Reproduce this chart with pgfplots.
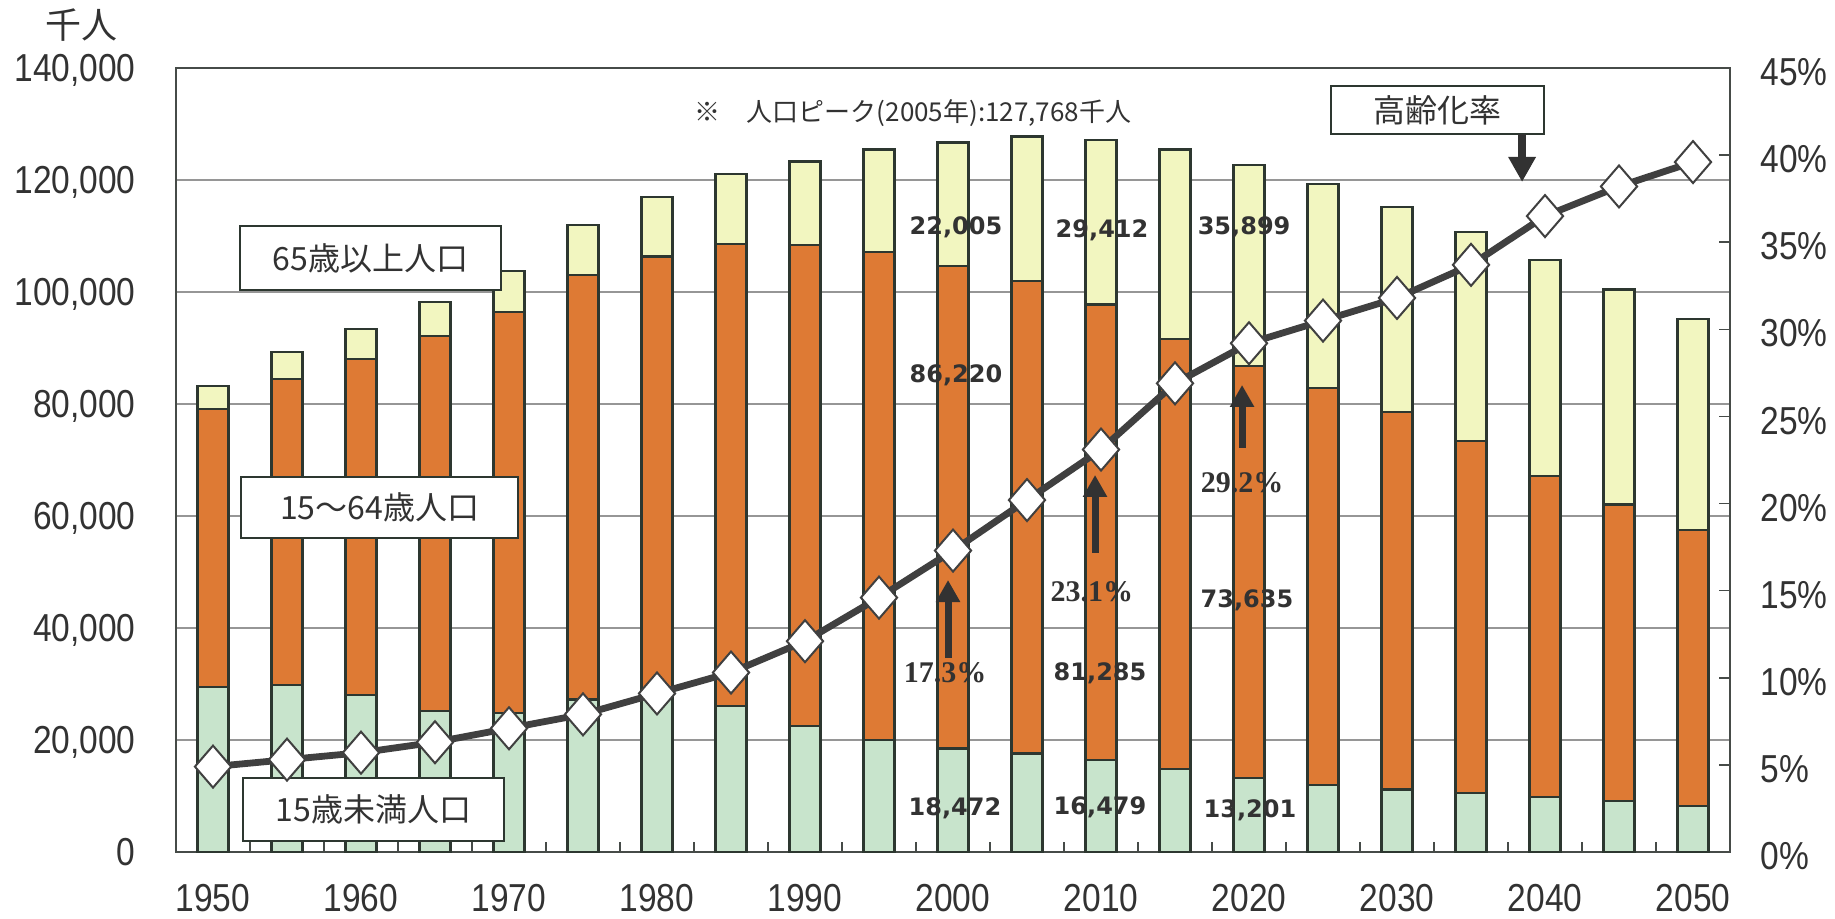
\documentclass[border=0pt]{standalone}
\usepackage{fontspec}
\setmainfont[FakeStretch=0.86]{Liberation Sans}
\newfontfamily\cjk{Noto Sans CJK JP}
\newfontfamily\numfont{DejaVu Sans}
\newfontfamily\pctfont{Liberation Serif}
\usepackage{pgfplots}
\pgfplotsset{compat=1.18}
\usepackage{pgfplotstable}
\usetikzlibrary{arrows.meta}

\definecolor{young}{RGB}{200,228,204}
\definecolor{work}{RGB}{222,122,52}
\definecolor{old}{RGB}{242,246,192}
\definecolor{barline}{RGB}{45,55,48}
\definecolor{linecol}{RGB}{64,64,64}
\definecolor{txt}{RGB}{50,50,50}
\definecolor{gridcol}{RGB}{150,150,150}
\definecolor{framecol}{RGB}{70,75,72}

% population by age group (thousand persons), ageing rate (%)
\pgfplotstableread{
idx year young work old rate
0  1950 29428 49658 4109  4.9
1  1955 29798 54729 4747  5.3
2  1960 28067 60002 5350  5.7
3  1965 25166 66928 6181  6.3
4  1970 24823 71566 7331  7.1
5  1975 27221 75807 8865  7.9
6  1980 27507 78835 10647 9.1
7  1985 26033 82506 12468 10.3
8  1990 22486 85904 14895 12.1
9  1995 20014 87165 18261 14.6
10 2000 18472 86220 22005 17.3
11 2005 17585 84422 25761 20.2
12 2010 16479 81285 29412 23.1
13 2015 14841 76807 33781 26.9
14 2020 13201 73635 35899 29.2
15 2025 11956 70960 36354 30.5
16 2030 11150 67404 36670 31.8
17 2035 10512 62919 37249 33.7
18 2040 9833  57335 38527 36.5
19 2045 9036  53000 38407 38.2
20 2050 8214  49297 37641 39.6
}\popdata

\tikzset{
  lbl/.style={draw=barline, line width=1pt, fill=white, inner sep=0pt,
    font=\cjk\fontsize{16pt}{18pt}\selectfont, text=txt},
  val/.style={font=\numfont\bfseries\fontsize{12pt}{14pt}\selectfont, text=txt, inner sep=0pt},
  pct/.style={font=\pctfont\bfseries\fontsize{15pt}{17pt}\selectfont, text=txt, inner sep=0pt},
  up/.style={draw=txt, line width=3.5pt, -{Triangle[width=11.5pt,length=11pt]}},
}

\begin{document}
\begin{tikzpicture}
\begin{axis}[
  at={(0pt,0pt)}, anchor=south west,
  scale only axis, width=777pt, height=392pt,
  xmin=-0.5, xmax=20.5, ymin=0, ymax=140000,
  ybar stacked, bar width=15.5pt,
  xtick={0,2,...,20},
  xticklabels={1950,1960,1970,1980,1990,2000,2010,2020,2030,2040,2050},
  xtick pos=bottom, ytick pos=left,
  xtick style={draw=none},
  extra x ticks={0.5,1.5,...,19.5},
  extra x tick labels={},
  extra x tick style={xtick style={draw=framecol, line width=0.8pt}, major tick length=5pt},
  ytick={0,20000,...,140000},
  scaled y ticks=false,
  ytick style={draw=none},
  ymajorgrids,
  major grid style={draw=gridcol, line width=0.6pt},
  axis line style={draw=framecol, line width=1pt},
  /pgf/number format/.cd, fixed, 1000 sep={,}, assume math mode=true,
  /pgfplots/.cd,
  ticklabel style={font=\fontsize{19.5pt}{20pt}\selectfont, text=txt},
  xticklabel style={inner sep=0pt, anchor=north, yshift=-16pt, text depth=0pt},
  yticklabel style={inner sep=0pt, anchor=east, xshift=-20pt, text depth=0pt},
  clip=false,
]
\addplot[draw=barline, line width=1.1pt, fill=young] table[x=idx, y=young]{\popdata};
\addplot[draw=barline, line width=1.1pt, fill=work]  table[x=idx, y=work]{\popdata};
\addplot[draw=barline, line width=1.1pt, fill=old]   table[x=idx, y=old]{\popdata};
\end{axis}

\begin{axis}[
  at={(0pt,0pt)}, anchor=south west,
  scale only axis, width=777pt, height=392pt,
  xmin=-0.5, xmax=20.5, ymin=0, ymax=45,
  axis y line*=right, axis x line=none,
  ytick={0,5,...,45},
  yticklabel={\pgfmathprintnumber{\tick}\%},
  major tick length=5.5pt,
  ytick style={draw=framecol, line width=0.8pt},
  axis line style={draw=framecol, line width=1pt},
  /pgf/number format/assume math mode=true,
  ticklabel style={font=\fontsize{19.5pt}{20pt}\selectfont, text=txt},
  yticklabel style={inner sep=0pt, anchor=west, xshift=15pt, yshift=-2pt, text depth=0pt},
  clip=false,
]
\addplot[linecol, line width=3.4pt, mark=diamond*, mark size=10.5pt,
  mark options={xscale=1.15, fill=white, draw=linecol, line width=1pt, solid}]
  table[x=idx, y=rate]{\popdata};

% annotations
\node[font=\cjk\fontsize{13pt}{15pt}\selectfont, text=txt] at (rel axis cs:0.4743,0.9426)
  {※\hspace{1em}人口ピーク(2005年):127,768千人};
\node[lbl, minimum width=106.5pt, minimum height=24pt] at (rel axis cs:0.8118,0.9464) {高齢化率};
\draw[draw=txt, line width=4pt, -{Triangle[width=13pt,length=12.5pt]}]
  (rel axis cs:0.8662,0.9158) -- (rel axis cs:0.8662,0.8546);
\node[lbl, minimum width=130.5pt, minimum height=32pt] at (rel axis cs:0.1252,0.7577) {65歳以上人口};
\node[lbl, minimum width=138.5pt, minimum height=30.5pt] at (rel axis cs:0.1310,0.4394) {15～64歳人口};
\node[lbl, minimum width=130.5pt, minimum height=31.5pt] at (rel axis cs:0.1271,0.0542) {15歳未満人口};

\node[val] at (rel axis cs:0.5019,0.7972) {22,005};
\node[val] at (rel axis cs:0.5959,0.7934) {29,412};
\node[val] at (rel axis cs:0.6873,0.7972) {35,899};
\node[val] at (rel axis cs:0.5019,0.6084) {86,220};
\node[val] at (rel axis cs:0.5946,0.2283) {81,285};
\node[val] at (rel axis cs:0.6892,0.3214) {73,635};
\node[val] at (rel axis cs:0.5013,0.0561) {18,472};
\node[val] at (rel axis cs:0.5946,0.0574) {16,479};
\node[val] at (rel axis cs:0.6911,0.0536) {13,201};

\draw[up] (rel axis cs:0.4968,0.2474) -- (rel axis cs:0.4968,0.3469);
\draw[up] (rel axis cs:0.5914,0.3814) -- (rel axis cs:0.5914,0.4809);
\draw[up] (rel axis cs:0.6860,0.5153) -- (rel axis cs:0.6860,0.5957);
\node[pct] at (rel axis cs:0.4949,0.2283) {17.3\%};
\node[pct] at (rel axis cs:0.5894,0.3316) {23.1\%};
\node[pct] at (rel axis cs:0.6860,0.4707) {29.2\%};
\end{axis}

\node[font=\cjk\fontsize{18pt}{20pt}\selectfont, text=txt] at (-47pt,413.5pt) {千人};
\pgfresetboundingbox
\path[use as bounding box] (-88pt,-33.5pt) rectangle (829.5pt,426pt);
\end{tikzpicture}
\end{document}
